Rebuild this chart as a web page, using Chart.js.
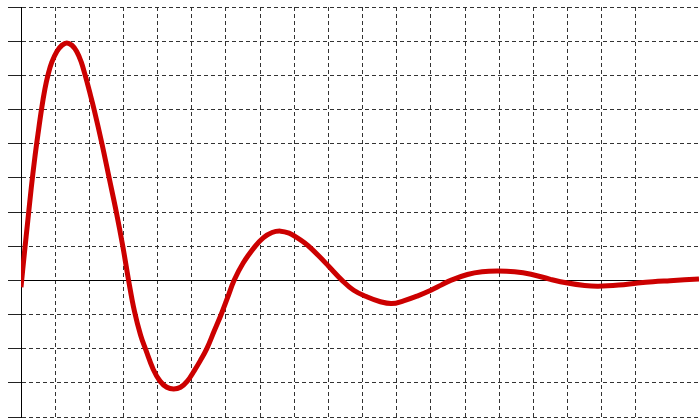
<!DOCTYPE html>
<html>
<head>
<meta charset="utf-8">
<script src="https://cdn.jsdelivr.net/npm/chart.js@4/dist/chart.umd.min.js"></script>
<style>
html,body{margin:0;padding:0;background:#fff;}
#wrap{width:699px;height:419px;}
</style>
</head>
<body>
<div id="wrap"><canvas id="c" width="699" height="419"></canvas></div>
<script>
const xValues = [0, 0.1, 0.2, 0.3, 0.4, 0.5, 0.6, 0.7, 0.8, 0.9, 1.05, 1.2, 1.34, 1.49, 1.63, 1.76, 1.88, 2.0, 2.14, 2.37, 2.58, 2.79, 2.98, 3.15, 3.32, 3.5, 3.66, 3.87, 4.07, 4.27, 4.47, 4.67, 4.87, 5.07, 5.25, 5.44, 5.65, 5.86, 6.05, 6.24, 6.5, 6.86, 7.1, 7.35, 7.6, 7.85, 8.08, 8.3, 8.5, 8.75, 9.0, 9.4, 9.74, 10.14, 10.5, 10.85, 11.2, 11.6, 12.0, 12.3, 12.58, 13.07, 13.5, 13.95, 14.45, 14.93, 15.5, 16.0, 16.5, 16.9, 17.5, 18.05, 18.5, 19.0, 19.85];
const yValues = [-0.2, 0.8, 1.75, 2.7, 3.55, 4.3, 5.0, 5.6, 6.05, 6.38, 6.7, 6.88, 6.95, 6.88, 6.7, 6.4, 6.0, 5.55, 5.0, 4.0, 3.0, 2.0, 1.0, 0.0, -0.9, -1.6, -2.05, -2.6, -2.95, -3.13, -3.18, -3.13, -2.95, -2.65, -2.35, -2.0, -1.5, -1.0, -0.5, 0.0, 0.5, 1.0, 1.25, 1.4, 1.44, 1.38, 1.25, 1.1, 0.93, 0.68, 0.42, 0.0, -0.29, -0.49, -0.62, -0.68, -0.6, -0.46, -0.29, -0.14, 0.0, 0.17, 0.25, 0.27, 0.25, 0.18, 0.03, -0.08, -0.15, -0.17, -0.14, -0.08, -0.04, -0.01, 0.04];
const xMin = 0, xMax = 19.85, xStep = 1;
const yMin = -4, yMax = 8, yStep = 1;

const points = xValues.map((x, i) => ({x: x, y: yValues[i]}));

new Chart(document.getElementById('c'), {
  type: 'line',
  data: {
    datasets: [{
      data: points,
      borderColor: '#cc0000',
      borderWidth: 5,
      pointRadius: 0,
      tension: 0.4,
      fill: false
    }]
  },
  options: {
    responsive: false,
    animation: false,
    layout: {padding: {left: 8, top: 7, right: 0, bottom: 2}},
    plugins: {legend: {display: false}, tooltip: {enabled: false}},
    scales: {
      x: {
        type: 'linear',
        position: {y: 0},
        min: xMin, max: xMax,
        afterBuildTicks: s => { s.ticks = s.ticks.filter(t => Number.isInteger(t.value)); },
        ticks: {display: false, stepSize: xStep},
        grid: {color: '#333', lineWidth: 1, drawTicks: false},
        border: {display: true, color: '#000', width: 1, dash: [4, 3]}
      },
      y: {
        type: 'linear',
        min: yMin, max: yMax,
        ticks: {display: false, stepSize: yStep},
        grid: {color: '#333', lineWidth: 1, drawTicks: true, tickLength: 13, tickColor: '#222'},
        border: {display: true, color: '#000', width: 1, dash: [4, 3]}
      }
    }
  }
});
</script>
</body>
</html>
